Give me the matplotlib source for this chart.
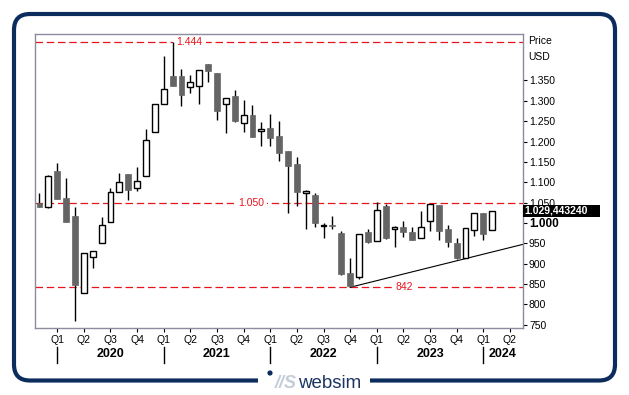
import numpy as np
import pandas as pd
import matplotlib
matplotlib.use("Agg")
import matplotlib.pyplot as plt
from matplotlib.patches import FancyBboxPatch, Rectangle, Circle
from matplotlib.transforms import IdentityTransform, blended_transform_factory

plt.rcParams['font.family'] = ['Liberation Sans', 'DejaVu Sans']

# monthly candles, Nov 2019 .. Feb 2024 (price in USD)
months = pd.period_range("2019-11", "2024-02", freq="M")
open_ = [1048, 1038, 1128, 1061, 1017, 827, 916, 950, 1002, 1077, 1120, 1085,
         1115, 1223, 1292, 1361, 1361, 1333, 1337, 1391, 1368, 1292, 1311, 1245,
         1265, 1226, 1234, 1214, 1177, 1145, 1073, 1069, 993, 994, 975, 876,
         867, 978, 955, 1041, 985, 990, 978, 962, 1005, 1044, 985, 951,
         915, 982, 1024, 982]
high = [1073, 1117, 1148, 1111, 1039, 926, 931, 1014, 1085, 1122, 1120, 1138,
        1231, 1292, 1410, 1444, 1378, 1364, 1375, 1391, 1368, 1308, 1327, 1301,
        1289, 1247, 1267, 1251, 1177, 1162, 1080, 1073, 999, 1017, 981, 913,
        972, 985, 1052, 1047, 993, 1005, 990, 1030, 1047, 1044, 995, 964,
        987, 1024, 1024, 1029.44]
low = [1038, 1036, 1059, 1003, 758, 827, 889, 950, 1002, 1077, 1057, 1079,
       1115, 1223, 1292, 1337, 1286, 1320, 1292, 1345, 1252, 1220, 1247, 1224,
       1210, 1188, 1190, 1153, 1025, 1042, 986, 991, 962, 985, 872, 842,
       862, 950, 955, 961, 940, 965, 957, 962, 979, 959, 942, 911,
       915, 969, 957, 982]
close = [1038, 1116, 1059, 1003, 848, 926, 931, 994, 1077, 1100, 1080, 1102,
         1203, 1292, 1328, 1337, 1315, 1346, 1375, 1372, 1276, 1308, 1251, 1265,
         1210, 1231, 1208, 1171, 1141, 1075, 1078, 999, 994, 993, 875, 845,
         972, 954, 1031, 962, 990, 977, 958, 990, 1047, 979, 952, 915,
         987, 1024, 974, 1029.443240]

# horizontal levels and support line
levels = [1444, 1050, 842]
trend_months = [pd.Period("2022-10", "M"), pd.Period("2023-10", "M")]
trend_values = [842, 907]

red = "#e8141c"
gray = "#656565"
navy = "#0b2c5d"


def fmt_price(v):
    return f"{v:,.0f}".replace(",", ".")


fig = plt.figure(figsize=(6.29, 3.95), dpi=100)
ax = fig.add_axes([35 / 629, 1 - 328 / 395, 487.7 / 629, 294 / 395])

x = np.arange(len(months))
o = np.array(open_)
c = np.array(close)
up = c >= o
xmax = 54.44
ax.set_xlim(-0.5, xmax)
ax.set_ylim(742, 1464)

# levels
label_x = [16.9, 23.8, 41.1]
for lv, lx in zip(levels, label_x):
    ax.axhline(lv, color=red, lw=0.9, ls=(0, (6, 3)), zorder=1)
    ax.text(lx, lv, fmt_price(lv), ha='center', va='center', color=red,
            fontsize=7.5, zorder=1.5,
            bbox=dict(facecolor='white', edgecolor='none', pad=2.5))

# trend line
t0 = (trend_months[0] - months[0]).n
t1 = (trend_months[1] - months[0]).n
slope = (trend_values[1] - trend_values[0]) / (t1 - t0)
ax.plot([t0, xmax], [trend_values[0], trend_values[0] + slope * (xmax - t0)],
        color='black', lw=0.8, zorder=2)

# candles
ax.vlines(x, low, high, color='black', lw=1.0, zorder=2)
bottom = np.minimum(o, c)
height = np.maximum(np.abs(c - o), 0.8)
w = 0.66
ax.bar(x[up], height[up], bottom=bottom[up], width=w, facecolor='white',
       edgecolor='black', lw=1.0, zorder=3)
ax.bar(x[~up], height[~up], bottom=bottom[~up], width=w, facecolor=gray,
       edgecolor=gray, lw=0.5, zorder=3)

# y axis on the right
yt = np.arange(750, 1351, 50)
ax.yaxis.tick_right()
ax.set_yticks(yt)
ax.set_yticklabels([fmt_price(v) for v in yt])
ax.tick_params(axis='y', length=3, width=0.8, pad=1.5, labelsize=7.5,
               colors='black')
for lab, v in zip(ax.get_yticklabels(), yt):
    if v == 1000:
        lab.set_fontweight('bold')
        lab.set_fontsize(8.5)

# x axis: quarters and years
all_months = pd.period_range(months[0], periods=int(xmax) + 1, freq="M")
q_idx = [i for i, m in enumerate(all_months) if m.month in (1, 4, 7, 10)]
ax.set_xticks(q_idx)
ax.set_xticklabels([f"Q{(all_months[i].month - 1) // 3 + 1}" for i in q_idx])
ax.tick_params(axis='x', length=3, width=0.8, pad=2, labelsize=7.5,
               colors='black')

trans = blended_transform_factory(ax.transData, ax.transAxes)
for i, m in enumerate(all_months):
    if m.month == 1:
        ax.plot([i, i], [-0.065, -0.118], transform=trans, color='black',
                lw=1.0, clip_on=False)
        mid = min(i + 6, (i + xmax) / 2)
        ax.text(mid, -0.089, str(m.year), transform=trans, ha='center',
                va='center', fontsize=9, fontweight='bold')

for s in ax.spines.values():
    s.set_color('#8c8ca0')
    s.set_linewidth(1.0)

# axis caption and last price
ax.text(1.011, 0.976, "Price", transform=ax.transAxes, ha='left',
        va='center', fontsize=7.5)
ax.text(1.011, 0.923, "USD", transform=ax.transAxes, ha='left',
        va='center', fontsize=7.5)
tr_y = blended_transform_factory(ax.transAxes, ax.transData)
last = close[-1]
ax.add_patch(Rectangle((1.0, last - 15), 0.158, 30, transform=tr_y,
                       facecolor='black', edgecolor='none', clip_on=False,
                       zorder=10))
last_txt = f"{last:,.6f}".replace(",", "X").replace(".", ",").replace("X", ".")
ax.text(1.003, last, last_txt, transform=tr_y, ha='left', va='center',
        color='white', fontsize=7.5, fontweight='bold', zorder=11)

# frame and logo
frame = FancyBboxPatch((14, 14.5), 601, 366.5,
                       boxstyle="round,pad=0,rounding_size=16",
                       transform=IdentityTransform(), facecolor='none',
                       edgecolor=navy, lw=3.0)
fig.patches.append(frame)
fig.patches.append(Rectangle((258, 8), 112, 14, transform=IdentityTransform(),
                             facecolor='white', edgecolor='none'))
fig.patches.append(Circle((270, 22), 2.6, transform=IdentityTransform(),
                          facecolor=navy, edgecolor='none'))
fig.text(275 / 629, 7 / 395, "//S", fontsize=13, fontweight='bold',
         fontstyle='italic', color='#c3ccd8', va='baseline', ha='left')
fig.text(298 / 629, 7 / 395, "websim", fontsize=13.5, color='#1d3563',
         va='baseline', ha='left')

fig.savefig("out.png", dpi=100)
